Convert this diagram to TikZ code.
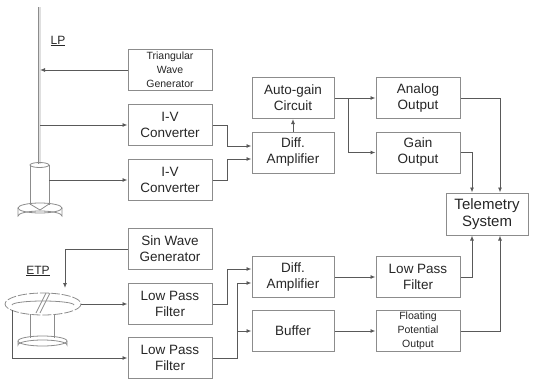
\documentclass[tikz,border=0pt]{standalone}
\usepackage{fontspec}
\setmainfont{Liberation Sans}
\usetikzlibrary{arrows.meta,calc}
\definecolor{linec}{gray}{0.35}
\definecolor{boxc}{gray}{0.55}
\definecolor{txtc}{gray}{0.15}
\definecolor{probec}{gray}{0.55}
\tikzset{
  blk/.style={draw=boxc, line width=1pt, minimum width=84pt, minimum height=41pt, inner sep=0pt, align=center, text=txtc, font=\fontsize{13.5}{16}\selectfont},
  blks/.style={blk, font=\fontsize{10.5}{14}\selectfont},
  blkt/.style={blk, font=\fontsize{15}{17}\selectfont},
  arr/.style={draw=linec, line width=0.9pt, -{Latex[length=5pt,width=4pt]}},
  ln/.style={draw=linec, line width=0.9pt},
  probe/.style={draw=probec, line width=0.8pt},
  lbl/.style={text=txtc, font=\fontsize{12}{14}\selectfont, inner sep=1pt}
}
\begin{document}
\begin{tikzpicture}[x=1pt,y=-1pt]
\useasboundingbox (0,0) rectangle (538,380);
% boxes
\node[blks] (tri) at (170,70) {Triangular\\Wave\\Generator};
\node[blk] (iv1) at (170,125) {I-V\\Converter};
\node[blk] (iv2) at (170,180) {I-V\\Converter};
\node[blk, minimum width=82pt] (agc) at (293,98) {Auto-gain\\Circuit};
\node[blk, minimum width=82pt] (da1) at (293,152.5) {Diff.\\Amplifier};
\node[blk] (ao) at (418,98) {Analog\\Output};
\node[blk] (go) at (418,152.5) {Gain\\Output};
\node[blkt, minimum width=82pt, minimum height=42pt] (tel) at (487,214) {Telemetry\\System};
\node[blk] (sin) at (170,249) {Sin Wave\\Generator};
\node[blk] (lpf1) at (170,304) {Low Pass\\Filter};
\node[blk] (lpf2) at (170,358) {Low Pass\\Filter};
\node[blk, minimum width=82pt] (da2) at (293,277) {Diff.\\Amplifier};
\node[blk] (lpfr) at (418,277) {Low Pass\\Filter};
\node[blk, minimum width=82pt] (buf) at (293,331) {Buffer};
\node[blks] (fpo) at (418,331) {Floating\\Potential\\Output};
% labels
\node[lbl] (lp) at (58,41) {\underline{LP}};
\node[lbl] (etp) at (38,271) {\underline{ETP}};
% LP probe
\coordinate (rodtop) at (39.5,7);
\coordinate (rodbot) at (39.5,164);
\draw[draw=probec, line width=0.8pt, double=gray!25, double distance=2pt] (rodtop) -- (rodbot);
\draw[probe] (30,165) -- (30,205) (49,165) -- (49,205);
\draw[probe] (39.5,165) ellipse [x radius=9.5, y radius=2.5];
\draw[probe, fill=white] (18,208) -- (18,216) arc[start angle=180, end angle=360, x radius=22, y radius=5] -- (62,208);
\draw[probe] (40,208) ellipse [x radius=22, y radius=5];
\draw[probe] (30,204) -- (40,210) -- (49,204);
\coordinate (rod) at (40,0);
\coordinate (lpcyl) at (49,180);
% ETP probe
\draw[probe] (30,314) -- (30,338) (54,314) -- (54,338);
\draw[probe, dash pattern=on 9pt off 2pt] (43,304) ellipse [x radius=38, y radius=11];
\draw[probe] (12,305) arc[start angle=180, end angle=360, x radius=31, y radius=4];
\draw[probe] (46,293) -- (36,313) (50,293) -- (40,313);
\draw[probe] (18,341) -- (18,345) arc[start angle=180, end angle=360, x radius=24.5, y radius=5] -- (67,341);
\draw[probe] (42.5,341) ellipse [x radius=24.5, y radius=5];
\coordinate (etpR) at (81,304);
\coordinate (etpL) at (12,310);
\coordinate (etpT) at (65,288);
% connectors upper
\draw[arr] (tri.west) -- (tri.west -| rod);
\draw[arr] (iv1.west -| rod) -- (iv1.west);
\draw[arr] (lpcyl) -- (lpcyl -| iv2.west);
\draw[arr] (iv1.east) -- ++(15,0) |- ($(da1.west)+(0,-6.5)$);
\draw[arr] (iv2.east) -- ++(15,0) |- ($(da1.west)+(0,6.5)$);
\draw[arr] (da1.north) -- (agc.south);
\draw[arr] (agc.east) -- (ao.west);
\coordinate (br1) at ($(agc.east)+(14,0)$);
\draw[arr] (br1) |- (go.west);
\draw[arr] (ao.east) -| (tel.north -| 500,0);
\draw[arr] (go.east) -| (tel.north -| 472,0);
% connectors lower
\draw[arr] (sin.west) -| (etpT);
\draw[arr] (etpR) -- (lpf1.west);
\draw[arr] (etpL) |- (lpf2.west);
\draw[arr] (lpf1.east) -- ++(15,0) |- ($(da2.west)+(0,-8)$);
\draw[arr] (lpf2.east) -- ++(25,0) |- ($(da2.west)+(0,6)$);
\coordinate (br2) at ($(lpf2.east)+(25,0)$);
\draw[arr] (br2 |- buf.west) -- (buf.west);
\draw[arr] (da2.east) -- (lpfr.west);
\draw[arr] (buf.east) -- (fpo.west);
\draw[arr] (lpfr.east) -| (tel.south -| 472,0);
\draw[arr] (fpo.east) -| (tel.south -| 500,0);
\end{tikzpicture}
\end{document}
